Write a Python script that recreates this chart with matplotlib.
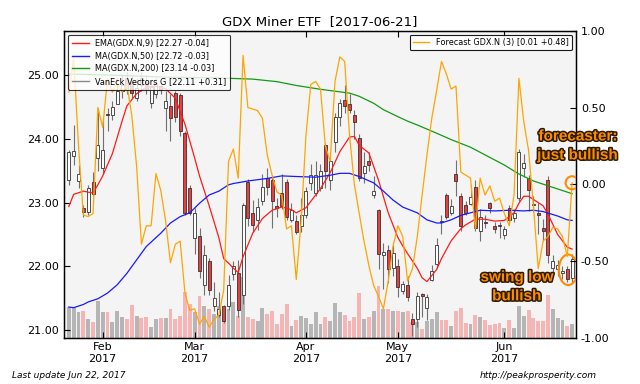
import numpy as np
import pandas as pd
import matplotlib
matplotlib.use('Agg')
import matplotlib.pyplot as plt
from matplotlib.patches import Ellipse
from matplotlib.lines import Line2D
import matplotlib.patheffects as pe

# ---------------- data ----------------
holidays = ['2017-02-20', '2017-04-14', '2017-05-29']
dates = pd.bdate_range('2017-01-23', '2017-06-21')
dates = dates[~dates.isin(pd.to_datetime(holidays))]

opens = [23.36, 23.74, 23.34, 22.91, 22.86, 23.32, 23.70, 23.54, 24.39, 24.37,
         24.55, 24.75, 24.95, 24.90, 24.64, 24.95, 24.90, 24.56, 24.70, 24.83,
         24.48, 24.51, 24.72, 24.69, 24.09, 23.23, 22.45, 22.47, 21.71, 22.08,
         21.37, 21.23, 21.37, 21.37, 21.88, 21.89, 21.55, 23.33, 22.84, 22.73,
         23.03, 23.38, 23.36, 22.94, 23.15, 23.33, 22.72, 22.71, 22.63, 22.81,
         23.31, 23.15, 23.23, 23.91, 23.36, 23.96, 24.35, 24.61, 24.55, 24.37,
         24.02, 23.46, 23.66, 23.12, 22.89, 22.17, 22.26, 21.97, 22.01, 21.61,
         21.71, 21.18, 21.17, 21.57, 21.35, 21.79, 22.03, 22.71, 23.12, 22.84,
         23.45, 23.10, 22.97, 22.98, 23.24, 22.55, 22.70, 22.99, 22.63, 22.65,
         22.49, 22.91, 22.76, 23.08, 23.55, 23.38, 22.98, 22.84, 22.60, 23.36,
         21.97, 21.95, 21.90, 21.95, 21.82]
highs = [23.83, 24.22, 23.59, 22.97, 23.28, 23.48, 24.48, 24.33, 24.48, 24.60,
         24.95, 25.00, 25.05, 25.00, 24.95, 25.05, 25.00, 24.85, 24.95, 24.90,
         24.75, 24.70, 24.75, 24.72, 24.12, 23.28, 22.92, 22.60, 22.33, 22.13,
         21.76, 21.59, 21.39, 21.87, 22.09, 22.10, 23.00, 23.37, 23.04, 23.07,
         23.45, 23.54, 23.43, 23.07, 23.45, 23.37, 23.00, 22.80, 23.08, 23.24,
         23.60, 23.65, 23.60, 23.93, 23.70, 24.40, 24.63, 24.85, 24.70, 24.45,
         24.07, 23.80, 23.80, 23.42, 22.90, 22.37, 22.34, 22.33, 22.12, 21.77,
         21.85, 21.26, 21.60, 21.58, 21.56, 22.02, 22.45, 22.80, 23.15, 23.05,
         23.67, 23.15, 23.02, 23.27, 23.36, 22.90, 22.80, 23.01, 22.70, 22.70,
         22.63, 22.96, 22.90, 23.84, 23.76, 23.43, 23.10, 23.00, 22.75, 23.42,
         22.17, 22.10, 22.00, 22.00, 22.20]
lows = [23.28, 23.59, 23.23, 22.77, 22.81, 23.11, 23.49, 23.45, 24.12, 24.30,
        24.55, 24.65, 24.70, 24.65, 24.60, 24.75, 24.70, 24.48, 24.65, 24.70,
        24.12, 23.97, 24.27, 24.04, 22.80, 22.80, 22.20, 21.82, 21.55, 21.55,
        21.29, 21.20, 21.11, 21.31, 21.78, 21.20, 21.40, 22.64, 22.54, 22.57,
        22.96, 23.12, 22.60, 22.78, 22.90, 22.72, 22.70, 22.50, 22.54, 22.76,
        23.20, 23.10, 23.18, 23.23, 23.20, 23.80, 24.20, 24.40, 24.40, 24.00,
        23.34, 23.31, 23.50, 23.08, 21.95, 21.64, 21.73, 21.85, 21.52, 21.56,
        21.45, 20.90, 21.05, 21.20, 21.15, 21.77, 21.97, 22.50, 22.75, 22.80,
        23.10, 22.55, 22.80, 22.96, 22.55, 22.39, 22.60, 22.84, 22.53, 22.45,
        22.43, 22.69, 22.70, 23.02, 23.40, 22.87, 22.85, 22.50, 22.40, 22.05,
        21.89, 21.85, 21.80, 21.75, 21.75]
closes = [23.80, 23.81, 23.45, 22.86, 23.23, 23.13, 23.91, 23.83, 24.37, 24.50,
          24.75, 24.85, 24.78, 24.72, 24.80, 24.85, 24.78, 24.82, 24.88, 24.77,
          24.59, 24.33, 24.35, 24.12, 22.84, 22.84, 22.84, 21.92, 22.18, 21.63,
          21.50, 21.33, 21.14, 21.71, 22.00, 21.32, 22.97, 22.76, 22.65, 22.93,
          23.24, 23.24, 23.02, 22.91, 22.95, 22.78, 22.89, 22.54, 22.81, 23.18,
          23.44, 23.44, 23.49, 23.49, 23.65, 24.35, 24.56, 24.52, 24.46, 24.26,
          23.38, 23.57, 23.59, 23.19, 22.19, 22.23, 21.95, 22.21, 21.68, 21.72,
          21.51, 21.09, 21.53, 21.53, 21.51, 21.92, 22.34, 22.69, 22.78, 22.95,
          23.34, 22.63, 22.84, 23.09, 22.60, 22.78, 22.68, 22.91, 22.58, 22.63,
          22.58, 22.73, 22.83, 23.79, 23.63, 23.20, 22.96, 22.81, 22.55, 22.18,
          22.08, 22.02, 21.93, 21.80, 22.11]
volume = [62, 60, 52, 54, 38, 32, 74, 52, 52, 32,
          54, 42, 38, 66, 44, 40, 42, 22, 38, 40,
          40, 58, 38, 44, 92, 68, 52, 84, 64, 58,
          48, 64, 44, 58, 72, 44, 122, 42, 38, 34,
          60, 48, 54, 28, 48, 68, 24, 36, 44, 40,
          28, 52, 28, 42, 34, 70, 52, 46, 34, 42,
          90, 38, 42, 54, 104, 58, 58, 54, 54, 52,
          54, 32, 32, 18, 34, 38, 52, 36, 36, 24,
          54, 60, 30, 28, 46, 42, 36, 26, 28, 30,
          20, 36, 20, 64, 44, 56, 40, 34, 34, 86,
          58, 40, 36, 24, 28]

ema9_day = [0, 1, 3, 5, 6, 7, 9, 11, 12, 14, 16, 18, 20, 22, 24, 26, 27, 29, 31, 32,
            33, 34, 35, 36, 38, 40, 42, 44, 46, 47, 49, 51, 52, 54, 56, 58, 59, 60, 62, 64,
            66, 68, 69, 70, 72, 73, 74, 76, 77, 79, 81, 82, 84, 86, 88, 90, 92, 93, 94, 95,
            96, 98, 99, 101, 103, 104]
ema9_val = [22.94, 23.13, 23.18, 23.15, 23.28, 23.42, 23.77, 24.28, 24.52, 24.71,
            24.81, 24.83, 24.79, 24.64, 24.23, 23.70, 23.42, 22.95, 22.45, 22.12,
            22.05, 21.97, 21.90, 22.15, 22.52, 22.75, 22.88, 22.93, 22.89, 22.84,
            22.92, 23.12, 23.22, 23.47, 23.80, 24.03, 24.04, 23.90, 23.78, 23.35,
            22.84, 22.45, 22.32, 22.20, 21.97, 21.82, 21.76, 21.95, 22.12, 22.40,
            22.59, 22.65, 22.74, 22.74, 22.71, 22.72, 22.84, 22.99, 23.10, 23.10,
            23.05, 22.95, 22.82, 22.50, 22.30, 22.27]
ma50_day = [0, 1, 3, 4, 6, 8, 10, 12, 14, 16, 19, 21, 23, 25, 27, 29, 31, 33, 34, 37,
            41, 44, 47, 51, 54, 56, 58, 60, 63, 65, 67, 69, 72, 74, 76, 77, 79, 81, 83, 85,
            88, 91, 94, 96, 98, 101, 103, 104]
ma50_val = [21.36, 21.35, 21.40, 21.44, 21.49, 21.58, 21.71, 21.89, 22.10, 22.31,
            22.52, 22.68, 22.78, 22.84, 22.99, 23.12, 23.18, 23.28, 23.30, 23.34,
            23.38, 23.42, 23.41, 23.40, 23.43, 23.46, 23.46, 23.41, 23.31, 23.18,
            23.04, 22.93, 22.84, 22.73, 22.68, 22.68, 22.73, 22.80, 22.84, 22.88,
            22.87, 22.88, 22.87, 22.88, 22.86, 22.79, 22.73, 22.72]
ma200_day = [0, 10, 20, 30, 34, 38, 43, 47, 52, 55, 58, 60, 63, 65, 68, 70, 72, 76, 79, 83,
             86, 90, 93, 96, 100, 104]
ma200_val = [25.02, 25.00, 24.97, 24.96, 24.95, 24.94, 24.90, 24.84, 24.78, 24.75,
             24.72, 24.67, 24.56, 24.46, 24.35, 24.28, 24.22, 24.09, 23.99, 23.87,
             23.75, 23.59, 23.45, 23.34, 23.24, 23.14]
forecast = [0.60, 0.82, 0.25, -0.20, -0.21, -0.19, 0.50, 0.37, 0.69, 0.60,
            0.66, 0.60, 0.65, 0.45, 0.12, -0.39, -0.27, -0.27, 0.07, -0.04,
            -0.24, -0.51, -0.39, -0.37, -0.71, -0.82, -0.81, -0.91, -0.86, -0.93,
            -0.88, -0.85, -0.69, 0.15, 0.23, 0.04, 0.84, 0.50, 0.49, 0.48,
            0.43, 0.19, 0.06, -0.05, -0.07, -0.29, -0.27, -0.62, -0.24, 0.32,
            0.65, 0.67, 0.62, 0.25, 0.15, 0.67, 0.83, 0.80, 0.32, 0.00,
            -0.19, -0.37, -0.53, -0.66, -0.73, -0.81, -0.63, -0.40, -0.27, -0.34,
            -0.63, -0.55, -0.34, -0.07, 0.19, 0.43, 0.61, 0.80, 0.72, 0.62,
            0.64, 0.08, 0.06, 0.04, -0.29, 0.04, -0.07, -0.01, -0.11, -0.09,
            -0.19, -0.27, -0.07, 0.69, 0.41, 0.22, -0.14, -0.55, -0.37, -0.34,
            -0.28, -0.29, -0.34, -0.47, 0.01]

legend_labels = ['EMA(GDX.N,9) [22.27 -0.04]', 'MA(GDX.N,50) [22.72 -0.03]',
                 'MA(GDX.N,200) [23.14 -0.03]', 'VanEck Vectors G [22.11 +0.31]']
forecast_label = 'Forecast GDX.N (3) [0.01 +0.48]'
price_ticks = [21, 22, 23, 24, 25]
fc_ticks = [-1.0, -0.5, 0.0, 0.5, 1.0]

# ---------------- figure ----------------
plt.rcParams['font.family'] = ['DejaVu Sans']
fig = plt.figure(figsize=(6.4, 3.84), dpi=100)
rect = [0.1, 0.12, 0.8, 0.8]
idx = np.arange(len(dates))
o = np.array(opens); h = np.array(highs); l = np.array(lows); c = np.array(closes)
down = c < o

# volume axes (background)
axv = fig.add_axes(rect, label='vol')
axv.set_facecolor('#f4f4f4')
axv.bar(idx, volume, width=0.8, color=np.where(down, '#f5b5b5', '#b5b5b5'), linewidth=0)
axv.set_ylim(0, 620)
axv.set_xlim(-1.0, 104.8)
axv.set_xticks([]); axv.set_yticks([])
for s in axv.spines.values():
    s.set_visible(False)

# price axes
ax = fig.add_axes(rect, label='price', facecolor='none')
ax.set_xlim(-1.0, 104.8)
ax.set_ylim(20.875, 25.70)
ax.vlines(idx, l, h, color='#707070', linewidth=0.8, zorder=2)
body_bottom = np.minimum(o, c)
body_h = np.maximum(np.abs(c - o), 0.015)
ax.bar(idx, body_h, bottom=body_bottom, width=0.62,
       color=np.where(down, '#ee3b3b', 'white'), edgecolor='#333333', linewidth=0.6, zorder=3)
ax.plot(ema9_day, ema9_val, color='#ff1a1a', lw=0.9, zorder=4)
ax.plot(ma50_day, ma50_val, color='#1a1aff', lw=0.9, zorder=4)
ax.plot(ma200_day, ma200_val, color='#139a13', lw=0.9, zorder=4)

ax.set_yticks(price_ticks)
ax.set_yticklabels([f'{v:.2f}' for v in price_ticks])
month_pos, month_lab = [], []
for i, d in enumerate(dates):
    if i > 0 and d.month != dates[i - 1].month:
        month_pos.append(i)
        month_lab.append(f'{d:%b}\n{d:%Y}')
ax.set_xticks(month_pos)
ax.set_xticklabels(month_lab)
ax.tick_params(axis='both', direction='in', length=4, labelsize=8, top=True, width=0.8)
ax.tick_params(axis='x', pad=3)
for s in ax.spines.values():
    s.set_linewidth(1.0)

# forecast axes
axf = ax.twinx()
axf.set_ylim(-1.0, 1.0)
axf.plot(idx, forecast, color='#ffa500', lw=0.9, zorder=5)
axf.set_yticks(fc_ticks)
axf.set_yticklabels([f'{v:.2f}' for v in fc_ticks])
axf.tick_params(axis='y', direction='in', length=4, labelsize=8, width=0.8)

# legends
h1 = [Line2D([], [], color=col, lw=1) for col in ['#ff1a1a', '#1a1aff', '#139a13', '#8a8a8a']]
leg1 = axf.legend(h1, legend_labels, loc='upper left', fontsize=5.9, frameon=True,
                  fancybox=True, framealpha=0.8, edgecolor='black', borderpad=0.5,
                  labelspacing=0.45, handlelength=2.0, bbox_to_anchor=(0.0, 1.0))
leg1.get_frame().set_linewidth(0.8)
axf.add_artist(leg1)
h2 = [Line2D([], [], color='#ffa500', lw=1)]
leg2 = axf.legend(h2, [forecast_label], loc='upper right', fontsize=5.9, frameon=True,
                  fancybox=True, framealpha=0.9, edgecolor='black', borderpad=0.4,
                  handlelength=2.0, bbox_to_anchor=(1.0, 1.0))
leg2.get_frame().set_linewidth(0.8)

# annotations
last = len(dates) - 1
axf.add_patch(Ellipse((last, forecast[-1]), width=2.7, height=0.085, fill=False,
                      edgecolor='#ff8c00', lw=1.5, zorder=6))
ax.add_patch(Ellipse((last - 0.8, (lows[-1] + highs[-1]) / 2 - 0.03), width=3.9, height=0.48,
                     fill=False, edgecolor='#ff8c00', lw=1.5, zorder=6))
stroke = [pe.withStroke(linewidth=2.2, foreground='#2a1a00')]
fig.text(0.903, 0.620, 'forecaster:\njust bullish', ha='center', va='center',
         fontsize=11, fontweight='bold', family='Liberation Sans', color='#ff8c00',
         linespacing=1.45, path_effects=stroke, zorder=10)
fig.text(0.808, 0.253, 'swing low\nbullish', ha='center', va='center',
         fontsize=11, fontweight='bold', family='Liberation Sans', color='#ff8c00',
         linespacing=1.45, path_effects=stroke, zorder=10)

fig.text(0.5, 0.943, 'GDX Miner ETF  [2017-06-21]', ha='center', va='center', fontsize=9.5)
fig.text(0.019, 0.023, 'Last update Jun 22, 2017', ha='left', va='center',
         fontsize=6.5, style='italic')
fig.text(0.933, 0.023, 'http://peakprosperity.com', ha='right', va='center',
         fontsize=6.5, style='italic')

fig.savefig('out.png', dpi=100)
